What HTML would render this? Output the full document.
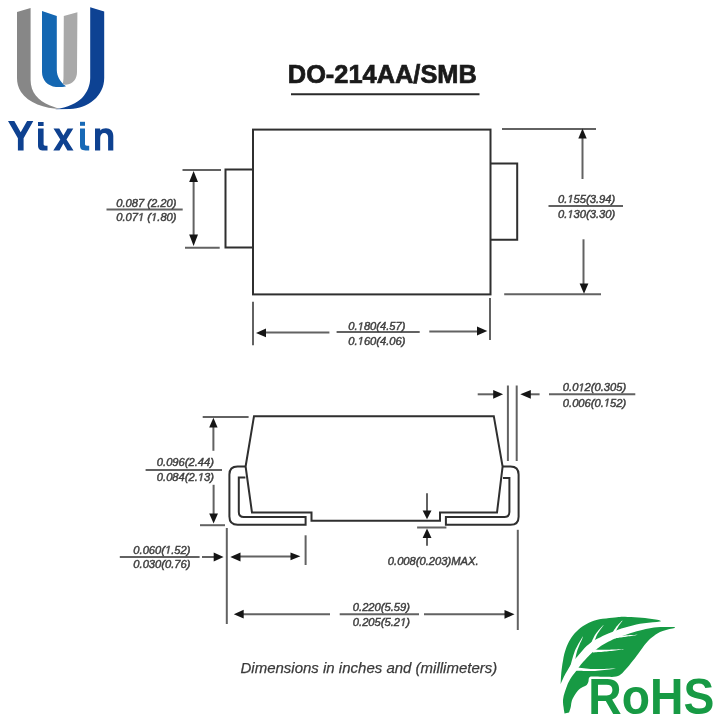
<!DOCTYPE html>
<html><head><meta charset="utf-8">
<style>
html,body{margin:0;padding:0;background:#fff;}
body{width:724px;height:726px;overflow:hidden;position:relative;}
svg{position:absolute;left:0;top:0;will-change:transform;filter:blur(0.3px);}
text{font-family:"Liberation Sans",sans-serif;}
.h1{fill-opacity:0;stroke-opacity:0;}
.dim{font-size:11.2px;font-style:italic;fill:#404040;stroke:#404040;stroke-width:0.45px;}
</style></head>
<body>
<svg width="724" height="726" viewBox="0 0 724 726">
<defs><path id="g1" d="M412.3 0 L650 1223 L289 1000 L324 1180 L701 1409 L867 1409 L593.3 0 Z"/></defs>
<!-- ===== LOGO ===== -->
<g id="logo">
  <path d="M17 12.1 L30.6 7.9 L30.6 80 C30.6 92 38 101 50 105.5 C54 107 57 108 60 109 C45 108.5 28 103 21 92 C18 87 17 83 17 78 Z" fill="#878787"/>
  <path d="M90.2 7.2 L104.2 11.4 L104.2 78 C104.2 96 88 108.5 69.9 108.9 L55 109.2 C68 107.5 77 103 82 98 C87.5 92 90.2 85 90.2 78 Z" fill="#0d4293"/>
  <path d="M42 11 L56.8 15.9 L56.8 70 C57 76 59.5 81.5 66 86.3 C62 87.2 59 87.2 56 87 C47.5 86 42 80 42 72 Z" fill="#1467b2"/>
  <path d="M63.8 16 L77.4 12.2 L77 72 C77 79 73 84 66 84.8 L62.8 84.3 C63.2 82 63.5 80 63.5 76 Z" fill="#a9a9a9"/>
</g>
<!-- Yixin -->
<g fill="#0e4190">
  <path d="M8 121 L14.3 121 L20.7 132.3 L27.1 121 L33.3 121 L23.6 138.3 L23.6 150.6 L17.9 150.6 L17.9 138.3 Z"/>
  <rect x="38" y="122" width="5.6" height="4"/>
  <path d="M38 128.6 L43.6 128.6 L43.6 144 C43.6 145.5 44.5 145.8 47.5 145.8 L47.5 150.6 L44 150.6 C39.5 150.6 38 149 38 145 Z"/>
  <path d="M53.5 128.5 L59.3 128.5 L63.4 135.5 L67.5 128.5 L73.3 128.5 L66.5 139.4 L73.5 150.4 L67.4 150.4 L63.4 143.5 L59.5 150.4 L53.3 150.4 L60.3 139.4 Z"/>
  <path d="M95 150.6 L95 128.4 L100.2 128.4 L100.2 130.5 C101.5 129 103.5 128.2 106 128.2 C110.5 128.2 113.3 131 113.3 136 L113.3 150.6 L108.1 150.6 L108.1 137.5 C108.1 134.5 106.5 133 104.2 133 C101.8 133 100.2 135 100.2 138 L100.2 150.6 Z"/>
</g>
<g fill="#1769b6">
  <rect x="80" y="121.8" width="5" height="4"/>
  <path d="M80 128.5 L85 128.5 L85 144 C85 145.5 86 145.8 89.2 145.8 L89.2 150.4 L85.5 150.4 C81.5 150.4 80 149 80 145 Z"/>
</g>

<!-- ===== TITLE ===== -->
<text x="287.8" y="83.2" font-size="25" font-weight="bold" fill="#1a1a1a" stroke="#1a1a1a" stroke-width="0.7" textLength="189" lengthAdjust="spacingAndGlyphs">DO-214AA/SMB</text>
<line x1="291" y1="94.2" x2="479.5" y2="94.2" stroke="#2a2a2a" stroke-width="2"/>

<!-- ===== TOP VIEW ===== -->
<g fill="none" stroke="#2f2f2f" stroke-width="2">
  <rect x="253" y="129.6" width="237.5" height="164.8"/>
  <path d="M253 169.5 L225.5 169.5 L225.5 247.4 L253 247.4"/>
  <path d="M490.5 163.5 L517.2 163.5 L517.2 239.8 L490.5 239.8"/>
</g>
<g stroke="#626262" stroke-width="2" fill="none">
  <!-- left dim -->
  <line x1="182.5" y1="170" x2="221" y2="170"/>
  <line x1="185" y1="247.7" x2="219.7" y2="247.7"/>
  <line x1="193.6" y1="180" x2="193.6" y2="237"/>
  <line x1="106.5" y1="209.5" x2="182.7" y2="209.5"/>
  <!-- right dim -->
  <line x1="502" y1="129" x2="596" y2="129"/>
  <line x1="504.2" y1="294.3" x2="601" y2="294.3"/>
  <line x1="582.5" y1="137" x2="582.5" y2="179"/>
  <line x1="583.5" y1="239.3" x2="583.5" y2="285"/>
  <line x1="548.5" y1="206" x2="623" y2="206"/>
  <!-- bottom dim -->
  <line x1="253" y1="301.8" x2="253" y2="345.3"/>
  <line x1="490" y1="298" x2="490" y2="340"/>
  <line x1="264" y1="332.6" x2="329.4" y2="332.6"/>
  <line x1="336.6" y1="332" x2="419.7" y2="332"/>
  <line x1="429.3" y1="331.4" x2="478" y2="331.4"/>
</g>
<g fill="#151515">
  <path d="M193.6 171 L189.2 182 L198 182 Z"/>
  <path d="M193.6 246 L189.2 234.6 L198 234.6 Z"/>
  <path d="M582.5 128.6 L578.3 138.5 L586.7 138.5 Z"/>
  <path d="M584 293.7 L579.6 283.5 L588.4 283.5 Z"/>
  <path d="M256 332.9 L266 328.5 L266 337.3 Z"/>
  <path d="M487.3 331.1 L477 326.6 L477 335.6 Z"/>
</g>
<g class="dim">
  <text x="116.2" y="206.6">0.087 (2.20)</text>
  <text x="116.2" y="220.9">0.07<tspan class="h1">1</tspan> (<tspan class="h1">1</tspan>.80)</text>
  <text x="558" y="202.7">0.<tspan class="h1">1</tspan>55(3.94)</text>
  <text x="558" y="218">0.<tspan class="h1">1</tspan>30(3.30)</text>
  <text x="348.3" y="330.2">0.<tspan class="h1">1</tspan>80(4.57)</text>
  <text x="348.3" y="344.8">0.<tspan class="h1">1</tspan>60(4.06)</text>
</g>

<!-- ===== SIDE VIEW ===== -->
<g fill="none" stroke="#2f2f2f" stroke-width="2" stroke-linejoin="miter">
  <!-- body -->
  <path d="M245.6 466.5 L254 416.2 L493.8 416.2 L502.6 466.5 L497 512.6 L440 512.6 L440 520.8 L311.5 520.8 L311.5 512.6 L252 512.6 Z"/>
  <!-- left lead -->
  <path d="M245.7 466.4 L237.5 466.4 Q229.4 466.4 229.4 474.5 L229.4 516.5 Q229.4 524.8 237.7 524.8 L305.6 524.8 L305.6 517 L243.8 517 Q238.8 517 238.8 512 L238.8 477.6 L245.4 477.6"/>
  <!-- right lead -->
  <path d="M502.6 466.5 L510.5 466.5 Q518.6 466.5 518.6 474.6 L518.6 516.7 Q518.6 524.8 510.5 524.8 L445.9 524.8 L445.9 517 L504.4 517 Q509.4 517 509.4 512 L509.4 477.9 L503 477.9"/>
</g>
<g stroke="#626262" stroke-width="2" fill="none">
  <!-- height dim -->
  <line x1="202.7" y1="417.1" x2="248.6" y2="417.1"/>
  <line x1="213.4" y1="426" x2="213.4" y2="450.8"/>
  <line x1="213.6" y1="484.8" x2="213.6" y2="515"/>
  <line x1="200" y1="525.2" x2="225" y2="525.2"/>
  <line x1="145.6" y1="469.9" x2="222" y2="469.9"/>
  <!-- lead length dim -->
  <line x1="226.8" y1="528" x2="226.8" y2="624"/>
  <line x1="305.6" y1="535.3" x2="305.6" y2="565"/>
  <line x1="119.8" y1="557" x2="199.6" y2="557"/>
  <line x1="202" y1="557" x2="215" y2="557"/>
  <line x1="240" y1="556.5" x2="292" y2="556.5"/>
  <!-- lead thickness dim -->
  <line x1="507.9" y1="385.5" x2="507.9" y2="461"/>
  <line x1="516.7" y1="385.5" x2="516.7" y2="461"/>
  <line x1="477.7" y1="394.3" x2="495" y2="394.3"/>
  <line x1="529" y1="394.3" x2="539.6" y2="394.3"/>
  <line x1="549" y1="394.3" x2="635.3" y2="394.3"/>
  <!-- standoff dim -->
  <line x1="427" y1="493.3" x2="427" y2="511"/>
  <line x1="427" y1="537" x2="427" y2="545.7"/>
  <line x1="417.1" y1="527.5" x2="446.4" y2="527.5"/>
  <!-- overall length -->
  <line x1="517.8" y1="529.8" x2="517.8" y2="630"/>
  <line x1="242" y1="614.2" x2="330" y2="614.2"/>
  <line x1="339.7" y1="614.3" x2="419" y2="614.3"/>
  <line x1="424" y1="614.3" x2="506" y2="614.3"/>
</g>
<g fill="#151515">
  <path d="M213.4 417.7 L209.2 427.5 L217.6 427.5 Z"/>
  <path d="M213.6 523.5 L209.2 513.5 L218 513.5 Z"/>
  <path d="M223.6 557 L213.7 552.4 L213.7 561.5 Z"/>
  <path d="M230.3 557 L240.5 552.4 L240.5 561.5 Z"/>
  <path d="M300.4 556.3 L290.5 552.4 L290.5 560.2 Z"/>
  <path d="M503.1 394.3 L493.2 389.9 L493.2 398.7 Z"/>
  <path d="M520.3 394.3 L530.8 389.9 L530.8 398.7 Z"/>
  <path d="M427 519.2 L422.6 510.4 L431.5 510.4 Z"/>
  <path d="M427 528.6 L422.6 538 L431.5 538 Z"/>
  <path d="M233.8 614.2 L243.7 609.8 L243.7 618.6 Z"/>
  <path d="M514.5 614.3 L504.5 609.9 L504.5 618.7 Z"/>
</g>
<g class="dim">
  <text x="156.8" y="465.6">0.096(2.44)</text>
  <text x="156.8" y="481">0.084(2.<tspan class="h1">1</tspan>3)</text>
  <text x="133.3" y="553.6">0.060(<tspan class="h1">1</tspan>.52)</text>
  <text x="133.3" y="567.5">0.030(0.76)</text>
  <text x="562.8" y="391.3">0.0<tspan class="h1">1</tspan>2(0.305)</text>
  <text x="562.8" y="406.5">0.006(0.<tspan class="h1">1</tspan>52)</text>
  <text x="387.8" y="564.8">0.008(0.203)MAX.</text>
  <text x="352.8" y="611.3">0.220(5.59)</text>
  <text x="352.8" y="625.9">0.205(5.2<tspan class="h1">1</tspan>)</text>
</g>
<!-- ones -->
<g fill="#404040" stroke="#404040" stroke-width="82.3" stroke-linejoin="miter">
  <use href="#g1" transform="translate(137.98 220.90) scale(0.005469 -0.005469)"/>
  <use href="#g1" transform="translate(151.06 220.90) scale(0.005469 -0.005469)"/>
  <use href="#g1" transform="translate(567.34 202.70) scale(0.005469 -0.005469)"/>
  <use href="#g1" transform="translate(567.34 218.00) scale(0.005469 -0.005469)"/>
  <use href="#g1" transform="translate(357.64 330.20) scale(0.005469 -0.005469)"/>
  <use href="#g1" transform="translate(357.64 344.80) scale(0.005469 -0.005469)"/>
  <use href="#g1" transform="translate(197.86 481.00) scale(0.005469 -0.005469)"/>
  <use href="#g1" transform="translate(165.03 553.60) scale(0.005469 -0.005469)"/>
  <use href="#g1" transform="translate(578.36 391.30) scale(0.005469 -0.005469)"/>
  <use href="#g1" transform="translate(603.86 406.50) scale(0.005469 -0.005469)"/>
  <use href="#g1" transform="translate(400.08 625.90) scale(0.005469 -0.005469)"/>
</g>
<text x="240.5" y="672.5" font-size="15" font-style="italic" fill="#3a3a3a" stroke="#3a3a3a" stroke-width="0.25">Dimensions in inches and (millimeters)</text>

<!-- ===== RoHS ===== -->
<g id="rohs">
  <path fill="#179a44" d="M560.6 684.0 L560.7 682.5 L560.8 680.5 L560.9 678.2 L561.1 675.5 L561.3 672.8 L561.6 670.0 L562.0 667.1 L562.4 664.0 L563.0 660.7 L563.5 657.4 L564.2 654.3 L565.0 651.4 L565.9 648.8 L566.8 646.2 L567.8 643.9 L569.0 641.6 L570.2 639.4 L571.6 637.3 L573.1 635.3 L574.7 633.3 L576.5 631.5 L578.3 629.7 L580.3 628.1 L582.3 626.6 L584.4 625.2 L586.6 623.9 L588.9 622.8 L591.2 621.7 L593.8 620.8 L596.4 620.0 L599.3 619.3 L602.6 618.8 L606.0 618.4 L609.3 618.0 L612.3 617.8 L615.0 617.5 L617.0 617.3 L618.6 617.1 L619.9 616.9 L621.2 616.8 L622.9 616.8 L625.0 616.8 L627.8 616.9 L631.1 617.0 L634.6 617.2 L638.3 617.4 L641.8 617.7 L645.0 618.0 L648.3 618.4 L652.0 618.9 L655.6 619.5 L658.6 620.1 L660.5 620.7 L661.0 621.2 L659.7 621.6 L656.8 622.0 L652.9 622.3 L648.4 622.7 L644.0 623.2 L640.0 623.8 L636.3 624.6 L632.6 625.5 L628.8 626.4 L625.1 627.5 L621.4 628.6 L618.0 629.7 L614.7 630.9 L611.5 632.2 L608.3 633.5 L605.4 634.8 L602.6 636.1 L600.0 637.4 L597.7 638.5 L595.7 639.6 L593.8 640.6 L592.1 641.7 L590.3 643.0 L588.5 644.4 L586.6 646.1 L584.6 648.1 L582.7 650.3 L580.8 652.4 L579.0 654.5 L577.4 656.4 L576.0 658.0 L574.7 659.5 L573.6 661.0 L572.5 662.4 L571.5 663.8 L570.4 665.4 L569.2 667.3 L568.0 669.4 L566.8 671.5 L565.6 673.5 L564.7 675.3 L564.0 676.5 Z"/>
  <path fill="#179a44" d="M564.5 713.6 L564.3 712.1 L563.9 710.0 L563.6 707.6 L563.2 704.9 L563.0 702.3 L563.0 700.0 L563.3 697.9 L563.7 695.8 L564.3 693.7 L564.9 691.7 L565.6 689.8 L566.2 688.0 L566.8 686.4 L567.3 684.9 L567.9 683.6 L568.5 682.2 L569.2 680.9 L570.0 679.5 L570.9 678.0 L571.9 676.5 L573.0 675.0 L574.2 673.5 L575.4 672.0 L576.5 670.5 L577.6 669.0 L578.7 667.5 L579.8 666.1 L580.9 664.6 L582.2 663.1 L583.5 661.5 L585.0 659.9 L586.5 658.2 L588.2 656.5 L589.9 654.8 L591.7 653.1 L593.5 651.5 L595.4 650.0 L597.4 648.5 L599.5 647.0 L601.6 645.6 L603.8 644.3 L606.0 643.0 L608.2 641.8 L610.5 640.7 L612.8 639.6 L615.2 638.6 L617.8 637.5 L620.5 636.5 L623.5 635.4 L626.7 634.4 L630.1 633.3 L633.5 632.3 L636.8 631.3 L640.0 630.5 L643.0 629.8 L645.8 629.1 L648.6 628.5 L651.3 628.0 L654.1 627.6 L657.0 627.3 L660.4 627.1 L664.2 626.9 L668.1 626.9 L671.6 626.9 L674.1 627.1 L675.2 627.4 L674.6 627.9 L672.5 628.4 L669.5 629.1 L666.1 630.0 L662.7 630.9 L660.0 632.0 L657.8 633.2 L655.7 634.5 L653.8 635.9 L651.8 637.4 L649.9 639.1 L648.0 641.0 L646.0 643.2 L644.1 645.6 L642.2 648.2 L640.2 650.9 L638.4 653.5 L636.5 656.0 L634.7 658.4 L632.8 660.7 L631.0 663.0 L629.3 665.2 L627.6 667.2 L626.0 669.0 L624.6 670.6 L623.3 672.0 L622.2 673.3 L620.9 674.3 L619.6 675.3 L618.0 676.0 L616.1 676.5 L614.0 676.8 L611.8 676.9 L609.5 676.8 L607.2 676.8 L605.0 676.8 L602.7 676.8 L600.3 676.7 L597.9 676.6 L595.6 676.5 L593.6 676.5 L592.0 676.5 L590.9 676.6 L590.2 676.8 L589.7 677.0 L589.5 677.2 L589.3 677.6 L589.0 678.0 L588.8 678.5 L588.7 679.2 L588.6 679.9 L588.6 680.6 L588.5 681.3 L588.3 682.0 L588.1 682.6 L587.8 683.2 L587.5 683.8 L587.2 684.3 L586.7 684.9 L586.0 685.5 L585.1 686.1 L584.0 686.6 L582.8 687.1 L581.5 687.7 L580.2 688.5 L579.0 689.5 L577.8 690.8 L576.6 692.3 L575.4 693.9 L574.3 695.7 L573.3 697.4 L572.5 699.0 L571.9 700.6 L571.5 702.2 L571.2 703.8 L571.0 705.4 L570.8 706.8 L570.5 708.0 L570.2 709.1 L569.9 710.0 L569.6 710.8 L569.4 711.5 L569.2 712.1 L569.0 712.5 Z"/>
  <g fill="#fff">
    <path d="M574.1 666.9 L574.3 666.0 L574.4 664.7 L574.6 663.3 L574.9 661.7 L575.2 660.0 L575.5 658.2 L575.8 656.4 L576.2 654.6 L576.6 652.9 L577.0 651.4 L577.5 649.8 L578.1 648.2 L578.8 646.4 L579.5 644.7 L580.2 643.0 L581.0 641.4 L581.7 639.9 L582.3 638.6 L582.7 637.4 L583.1 636.5 L582.9 636.5 L582.4 637.3 L581.7 638.3 L581.0 639.6 L580.1 641.0 L579.2 642.5 L578.3 644.1 L577.4 645.8 L576.5 647.5 L575.7 649.1 L575.0 650.6 L574.4 652.2 L573.8 654.0 L573.2 655.7 L572.7 657.5 L572.2 659.3 L571.7 661.0 L571.3 662.6 L570.9 664.0 L570.6 665.2 L570.3 666.1 Z"/>
    <path d="M592.5 647.6 L592.7 646.8 L593.0 645.8 L593.3 644.7 L593.7 643.4 L594.2 642.1 L594.6 640.7 L595.1 639.3 L595.7 637.9 L596.2 636.6 L596.7 635.4 L597.3 634.3 L598.0 633.1 L598.8 631.9 L599.6 630.7 L600.4 629.5 L601.2 628.4 L602.0 627.4 L602.6 626.5 L603.2 625.7 L603.6 625.1 L603.4 624.9 L602.9 625.5 L602.2 626.2 L601.5 627.0 L600.6 627.9 L599.7 629.0 L598.7 630.0 L597.8 631.2 L596.9 632.3 L596.0 633.5 L595.3 634.6 L594.5 635.8 L593.9 637.0 L593.2 638.4 L592.5 639.8 L591.9 641.2 L591.3 642.5 L590.8 643.7 L590.3 644.8 L589.9 645.7 L589.5 646.4 Z"/>
    <path d="M614.2 634.7 L614.4 634.2 L614.7 633.6 L615.1 632.9 L615.4 632.0 L615.9 631.2 L616.3 630.3 L616.8 629.4 L617.2 628.5 L617.7 627.7 L618.1 626.9 L618.5 626.2 L619.0 625.5 L619.5 624.8 L620.1 624.0 L620.6 623.3 L621.1 622.6 L621.6 622.0 L622.0 621.4 L622.3 621.0 L622.6 620.6 L622.4 620.4 L622.1 620.7 L621.6 621.1 L621.1 621.6 L620.6 622.2 L620.0 622.8 L619.3 623.4 L618.7 624.0 L618.1 624.7 L617.5 625.4 L616.9 626.1 L616.3 626.8 L615.8 627.6 L615.2 628.4 L614.6 629.2 L614.0 630.1 L613.5 630.9 L613.0 631.7 L612.5 632.3 L612.1 632.9 L611.8 633.3 Z"/>
    <path d="M574.9 670.7 L576.1 670.7 L577.6 670.7 L579.4 670.8 L581.4 670.8 L583.6 670.9 L585.9 671.0 L588.2 671.0 L590.6 671.0 L592.9 671.0 L595.0 670.9 L597.2 670.8 L599.5 670.6 L601.9 670.3 L604.4 670.1 L606.8 669.8 L609.1 669.5 L611.2 669.3 L613.2 669.0 L614.8 668.8 L616.0 668.6 L616.0 668.4 L614.7 668.4 L613.1 668.5 L611.2 668.6 L609.0 668.7 L606.7 668.8 L604.3 668.9 L601.8 669.0 L599.4 669.1 L597.1 669.1 L595.0 669.1 L592.9 669.0 L590.6 668.9 L588.3 668.7 L586.0 668.5 L583.8 668.3 L581.6 668.1 L579.6 667.8 L577.8 667.6 L576.3 667.5 L575.1 667.3 Z"/>
    <path d="M593.0 652.5 L593.9 652.4 L595.1 652.3 L596.4 652.2 L597.9 652.1 L599.6 652.0 L601.3 651.9 L603.0 651.7 L604.8 651.6 L606.5 651.5 L608.0 651.3 L609.7 651.1 L611.4 650.9 L613.2 650.7 L615.0 650.5 L616.8 650.3 L618.5 650.0 L620.1 649.8 L621.5 649.6 L622.7 649.5 L623.6 649.3 L623.6 649.1 L622.7 649.1 L621.4 649.2 L620.0 649.2 L618.4 649.3 L616.7 649.4 L614.9 649.5 L613.1 649.5 L611.3 649.6 L609.6 649.7 L608.0 649.7 L606.4 649.7 L604.7 649.7 L602.9 649.7 L601.2 649.7 L599.5 649.7 L597.9 649.7 L596.3 649.6 L595.0 649.6 L593.9 649.5 L593.0 649.5 Z"/>
    <path d="M615.1 638.3 L615.8 638.2 L616.6 638.0 L617.6 637.9 L618.7 637.7 L619.9 637.6 L621.1 637.4 L622.4 637.2 L623.7 637.0 L624.9 636.9 L626.1 636.7 L627.2 636.5 L628.5 636.3 L629.8 636.2 L631.1 636.0 L632.4 635.8 L633.6 635.6 L634.8 635.4 L635.8 635.3 L636.6 635.1 L637.3 635.0 L637.3 634.8 L636.6 634.8 L635.7 634.8 L634.7 634.9 L633.5 634.9 L632.3 635.0 L631.0 635.1 L629.7 635.1 L628.4 635.2 L627.1 635.3 L625.9 635.3 L624.8 635.4 L623.5 635.4 L622.3 635.5 L621.0 635.5 L619.7 635.6 L618.5 635.6 L617.4 635.7 L616.4 635.7 L615.5 635.7 L614.9 635.7 Z"/>
  </g>
  <text x="588.3" y="713.8" font-size="47" font-weight="bold" fill="#179a44" textLength="126" lengthAdjust="spacingAndGlyphs" transform="translate(0 713.8) scale(1 1.045) translate(0 -713.8)">RoHS</text>
</g>
</svg>
</body></html>
